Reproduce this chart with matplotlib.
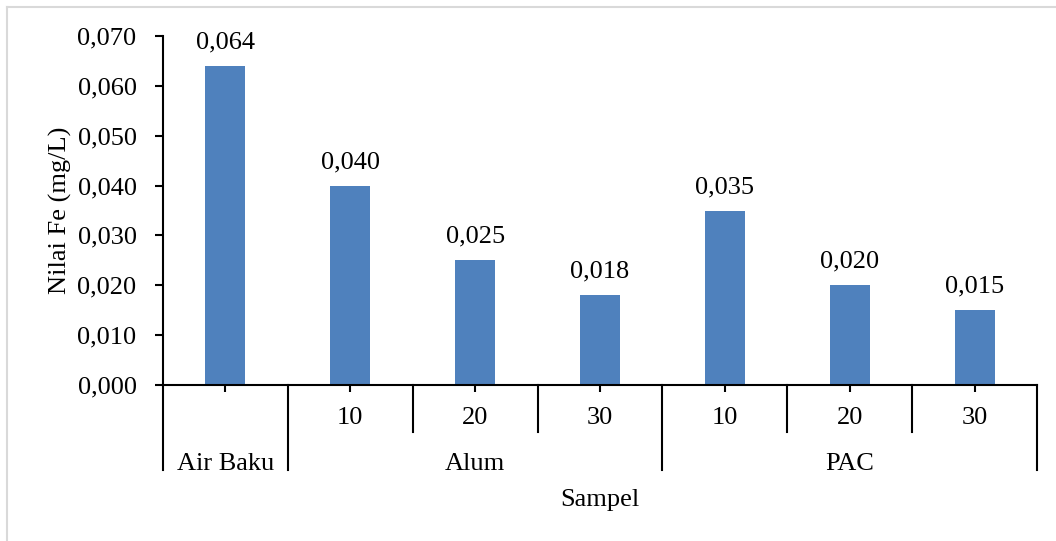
import matplotlib
matplotlib.use("Agg")
import matplotlib.pyplot as plt
from matplotlib.lines import Line2D
from matplotlib.ticker import FuncFormatter, MultipleLocator
from matplotlib.transforms import blended_transform_factory

# Fe concentration per sample
groups = ["Air Baku", "Alum", "PAC"]
group_sizes = [1, 3, 3]
doses = ["", "10", "20", "30", "10", "20", "30"]
fe_values = [0.064, 0.040, 0.025, 0.018, 0.035, 0.020, 0.015]

BAR_COLOR = "#4F81BD"
FONT = "Liberation Serif"
FS = 19

plt.rcParams["font.family"] = [FONT, "DejaVu Serif"]

W, H = 1056, 541
fig = plt.figure(figsize=(W / 100, H / 100), dpi=100)
ax = fig.add_axes([163 / W, 1 - 385 / H, (1037 - 163) / W, (385 - 36) / H])

x = list(range(len(fe_values)))
bars = ax.bar(x, fe_values, width=0.32, color=BAR_COLOR, zorder=2)

for xi, v in zip(x, fe_values):
    ax.annotate(f"{v:.3f}".replace(".", ","), (xi, v), xytext=(0, 9),
                textcoords="offset points", ha="center", va="bottom",
                fontsize=FS)

ax.set_xlim(-0.5, len(fe_values) - 0.5)
ax.set_ylim(0, 0.070)
ax.yaxis.set_major_locator(MultipleLocator(0.010))
ax.yaxis.set_major_formatter(FuncFormatter(lambda v, _: f"{v:.3f}".replace(".", ",")))
ax.tick_params(axis="y", labelsize=FS, length=6, width=1.5, pad=13)
ax.set_xticks(x)
ax.set_xticklabels([])
ax.tick_params(axis="x", length=5, width=1.5)

for side in ["top", "right"]:
    ax.spines[side].set_visible(False)
for side in ["left", "bottom"]:
    ax.spines[side].set_linewidth(1.5)

ax.set_ylabel("Nilai Fe (mg/L)", fontsize=FS, labelpad=4)

# two-level category axis below the bars
ax_h = 385 - 36
def to_axes(py):
    return (385 - py) / ax_h

trans = blended_transform_factory(ax.transData, ax.transAxes)
y_row1 = to_axes(432)
y_row2 = to_axes(470)

group_edges = [-0.5]
for n in group_sizes:
    group_edges.append(group_edges[-1] + n)

for i in range(len(fe_values) + 1):
    edge = i - 0.5
    bottom = y_row2 if edge in group_edges else y_row1
    ax.add_line(Line2D([edge, edge], [0, bottom], transform=trans,
                       color="black", lw=1.5, clip_on=False))

for xi, d in zip(x, doses):
    if d:
        ax.text(xi, to_axes(418), d, transform=trans, ha="center",
                va="center", fontsize=FS)

for g, lo, hi in zip(groups, group_edges[:-1], group_edges[1:]):
    ax.text((lo + hi) / 2, to_axes(464), g, transform=trans, ha="center",
            va="center", fontsize=FS)

ax.text(0.5, to_axes(500), "Sampel", transform=ax.transAxes, ha="center",
        va="center", fontsize=FS)

# light frame along the top and left edges
frame = "#d9d9d9"
fig.add_artist(Line2D([7 / W, 1], [1 - 7 / H, 1 - 7 / H], color=frame, lw=1.5))
fig.add_artist(Line2D([7 / W, 7 / W], [0, 1 - 7 / H], color=frame, lw=1.5))

fig.savefig("out.png", dpi=100)
